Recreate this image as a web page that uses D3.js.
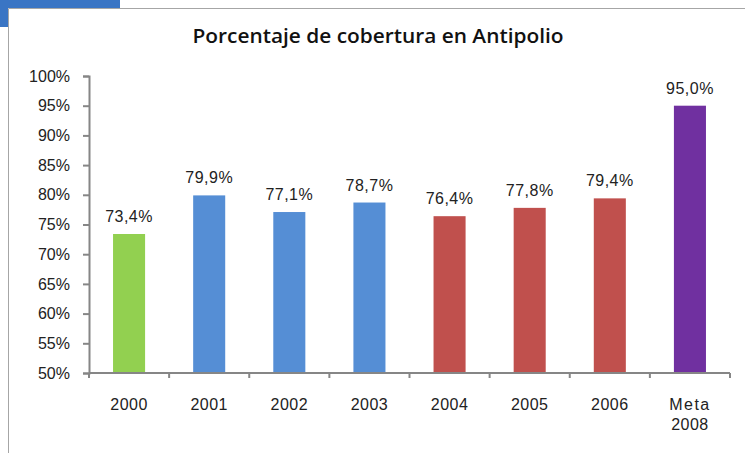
<!DOCTYPE html>
<html>
<head>
<meta charset="utf-8">
<script src="https://cdn.jsdelivr.net/npm/d3@7/dist/d3.min.js"></script>
<style>
  body { margin: 0; background: #fff; }
  svg { display: block; font-family: "Liberation Sans", Arial, sans-serif; }
</style>
</head>
<body>
<svg width="745" height="453"></svg>
<script>
  var categories = ['2000', '2001', '2002', '2003', '2004', '2005', '2006', 'Meta\n2008']
  var values = [73.4, 79.9, 77.1, 78.7, 76.4, 77.8, 79.4, 95.0]
  var barColors = ['#92d050', '#558ed5', '#558ed5', '#558ed5', '#c0504d', '#c0504d', '#c0504d', '#7030a0']
  var yTicks = [50, 55, 60, 65, 70, 75, 80, 85, 90, 95, 100]
  var title = 'Porcentaje de cobertura en Antipolio'

  var svg = d3.select('svg')
  var W = 745, H = 453
  var plot = {left: 89, right: 730, top: 76, bottom: 373}
  var axisColor = '#868686'

  // frame and blue corner
  svg.append('rect').attr('x', 0).attr('y', 0).attr('width', 120).attr('height', 8).attr('fill', '#3a75c4')
  svg.append('rect').attr('x', 0).attr('y', 0).attr('width', 8).attr('height', 27).attr('fill', '#3a75c4')
  svg.append('path')
     .attr('d', 'M8.5,' + H + 'V8.5H' + W)
     .attr('fill', 'none').attr('stroke', '#a6a6a6').attr('stroke-width', 1)

  var x = d3.scaleBand().domain(categories).range([plot.left, plot.right]).paddingInner(0.6).paddingOuter(0.3)
  var y = d3.scaleLinear().domain([50, 100]).range([plot.bottom, plot.top])

  // title
  svg.append('text')
     .attr('x', 378).attr('y', 43)
     .attr('text-anchor', 'middle')
     .style('font-family', '"Open Sans", "Liberation Sans", sans-serif')
     .style('font-size', '19px')
     .style('font-weight', '600')
     .style('fill', '#111')
     .attr('textLength', 371).attr('lengthAdjust', 'spacingAndGlyphs')
     .text(title)

  // bars
  svg.selectAll('rect.bar')
     .data(values)
     .enter()
     .append('rect')
     .attr('class', 'bar')
     .attr('x', function(d, i){ return x(categories[i]) })
     .attr('width', x.bandwidth())
     .attr('y', function(d){ return y(d) })
     .attr('height', function(d){ return y(50) - y(d) })
     .style('fill', function(d, i){ return barColors[i] })

  // value labels
  svg.selectAll('text.val')
     .data(values)
     .enter()
     .append('text')
     .attr('class', 'val')
     .attr('x', function(d, i){ return x(categories[i]) + x.bandwidth() / 2 })
     .attr('y', function(d){ return y(d) - 12 })
     .attr('text-anchor', 'middle')
     .style('font-size', '16px')
     .style('fill', '#222')
     .style('letter-spacing', '0.5px')
     .text(function(d){ return d.toFixed(1).replace('.', ',') + '%' })

  // y axis
  var yAxis = svg.append('g')
     .attr('transform', 'translate(' + plot.left + ',0)')
     .call(d3.axisLeft(y).tickValues(yTicks).tickSize(6).tickPadding(13).tickFormat(function(d){ return d + '%' }))
  yAxis.select('.domain').attr('stroke', axisColor).attr('stroke-width', 2)
  yAxis.selectAll('.tick line').attr('stroke', axisColor).attr('stroke-width', 2)
  yAxis.selectAll('.tick text').style('font-size', '16px').style('fill', '#222').style('font-family', '"Liberation Sans", Arial, sans-serif')

  // x axis
  var xb = d3.scaleLinear().domain([0, categories.length]).range([plot.left, plot.right])
  var xAxis = svg.append('g')
     .attr('transform', 'translate(0,' + plot.bottom + ')')
  xAxis.append('line')
     .attr('x1', plot.left).attr('x2', plot.right)
     .attr('stroke', axisColor).attr('stroke-width', 2)
  xAxis.selectAll('line.tk')
     .data(d3.range(categories.length + 1))
     .enter()
     .append('line')
     .attr('class', 'tk')
     .attr('x1', function(d){ return xb(d) }).attr('x2', function(d){ return xb(d) })
     .attr('y1', 0).attr('y2', 5)
     .attr('stroke', axisColor).attr('stroke-width', 2)

  var xl = xAxis.selectAll('text.cat')
     .data(categories)
     .enter()
     .append('text')
     .attr('class', 'cat')
     .attr('text-anchor', 'middle')
     .style('font-size', '16px')
     .style('fill', '#222')
     .attr('transform', function(d){ return 'translate(' + (x(d) + x.bandwidth() / 2) + ',37)' })
  xl.selectAll('tspan')
     .data(function(d){ return d.split('\n') })
     .enter()
     .append('tspan')
     .attr('x', 0)
     .attr('dy', function(d, i){ return i ? 20 : 0 })
     .style('letter-spacing', function(d){ return d === 'Meta' ? '1.5px' : '0.5px' })
     .text(function(d){ return d })
</script>
</body>
</html>
